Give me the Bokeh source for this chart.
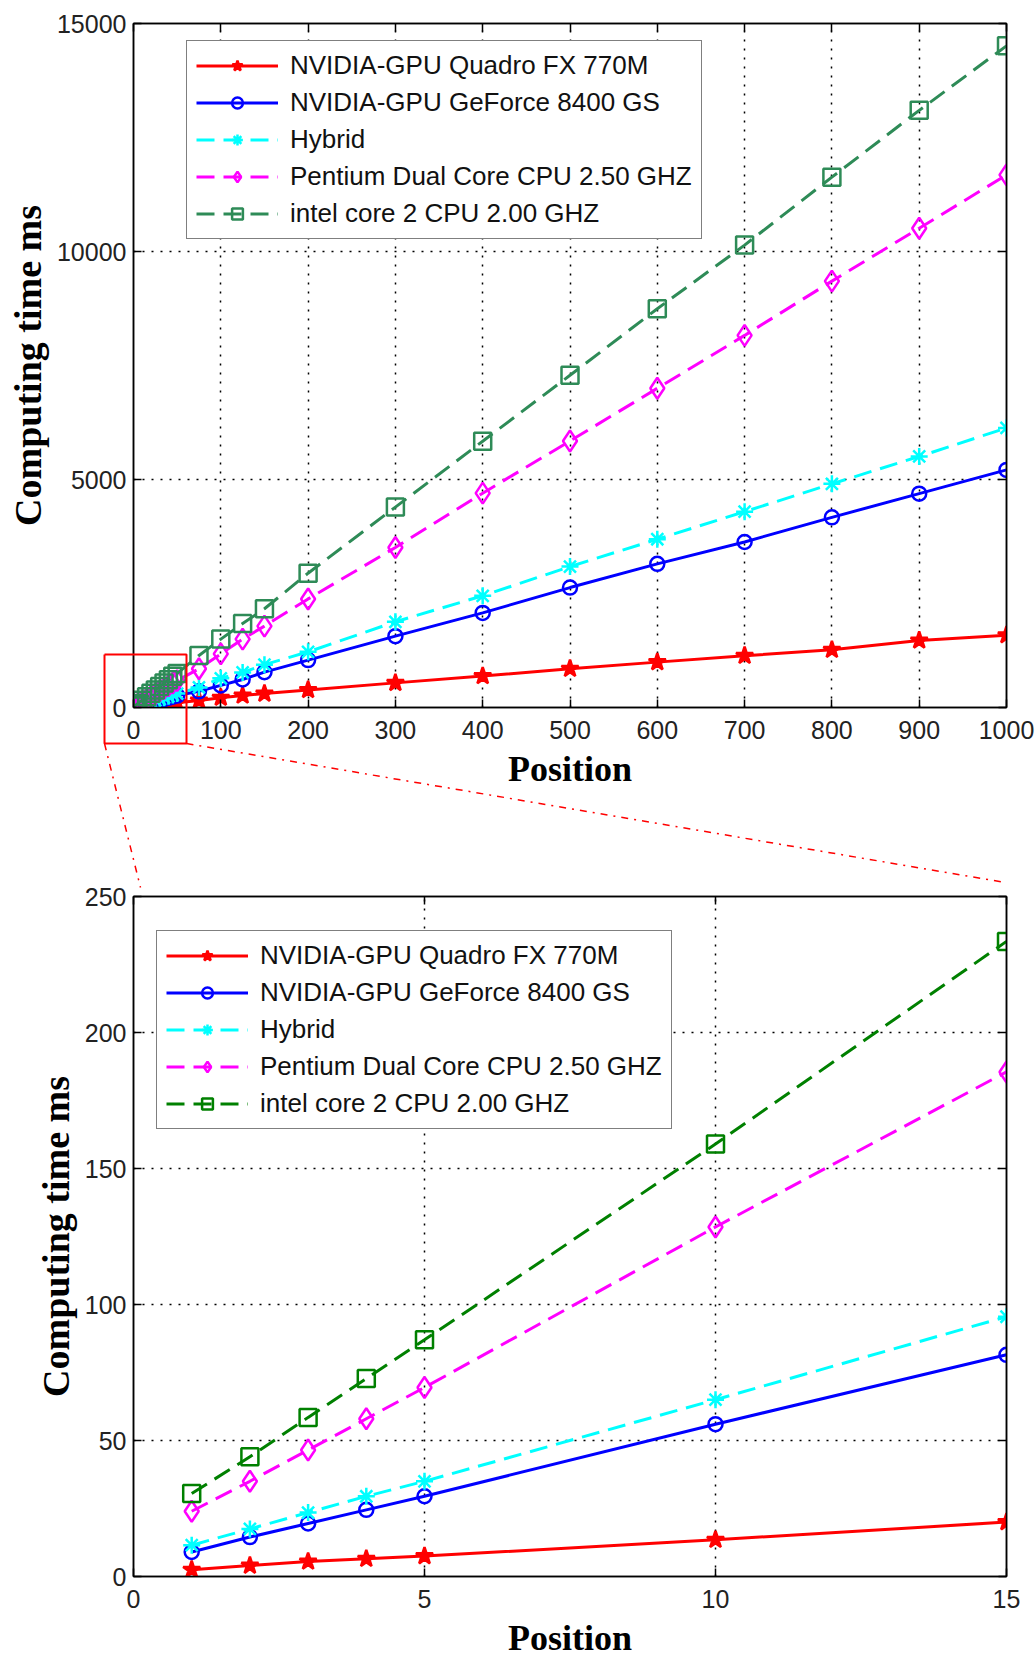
from bokeh.plotting import figure
from bokeh.models import (Legend, LegendItem, FixedTicker, LinearAxis, Range1d,
                          CustomJSTickFormatter)
from bokeh.layouts import column
from bokeh.embed import file_html
from bokeh.resources import INLINE

# ---------------- data ----------------
positions = [1, 2, 3, 4, 5, 10, 15, 20, 25, 30, 35, 40, 45, 50, 75, 100, 125, 150,
             200, 300, 400, 500, 600, 700, 800, 900, 1000]
quadro = [2.5, 4, 5.5, 6.5, 7.5, 13.5, 20, 28, 37, 48, 60, 73, 88, 105, 155, 215, 262, 305,
          385, 540, 690, 850, 995, 1135, 1265, 1470, 1585]
geforce = [9, 14.5, 19.5, 24.5, 29.5, 56, 81.5, 108, 133, 160, 185, 212, 238, 262, 355, 485, 615, 775,
           1040, 1565, 2075, 2630, 3150, 3630, 4170, 4690, 5210]
hybrid = [11.5, 17.5, 23.5, 29.5, 35, 65, 95.5, 126, 155, 186, 216, 245, 276, 305, 440, 640, 770, 940,
          1220, 1880, 2450, 3090, 3690, 4295, 4905, 5505, 6130]
pentium = [24, 35, 46.5, 58, 69.5, 128.5, 185.5, 245, 300, 360, 418, 476, 535, 590, 850, 1175, 1500, 1785,
           2380, 3510, 4700, 5845, 7000, 8160, 9350, 10510, 11680]
intel = [30.5, 44, 58.5, 72.8, 87, 159, 233.5, 310, 385, 460, 535, 610, 685, 745, 1140, 1500, 1840, 2165,
         2945, 4395, 5840, 7285, 8745, 10140, 11630, 13095, 14510]
labels = ["NVIDIA-GPU Quadro FX 770M", "NVIDIA-GPU GeForce 8400 GS", "Hybrid",
          "Pentium Dual Core CPU 2.50 GHZ", "intel core 2 CPU 2.00 GHZ"]

top_xticks = [0, 100, 200, 300, 400, 500, 600, 700, 800, 900, 1000]
top_yticks = [0, 5000, 10000, 15000]
bot_xticks = [0, 5, 10, 15]
bot_yticks = [0, 50, 100, 150, 200, 250]
n_zoom = 7  # first points shown in the zoomed view (positions 1..15)

# zoom indicator decoration, in page pixels (overlay layer)
overlay_top = 600
zoom_box_left, zoom_box_right = 104, 186
zoom_box_top, zoom_box_bottom = 654, 743
connector_x = [[104, 140], [186, 1005]]
connector_y = [[743, 887], [743, 882]]

SANS = "Liberation Sans"
SERIF = "Liberation Serif"


def hide_labels(ax):
    ax.formatter = CustomJSTickFormatter(code="return ''")
    ax.major_label_text_font_size = "1px"
    ax.major_label_standoff = 0


def make_plot(width, height, xr, yr, xticks, yticks, borders):
    p = figure(width=width, height=height, x_range=Range1d(*xr), y_range=Range1d(*yr),
               output_backend="svg", toolbar_location=None,
               min_border_left=borders[0], min_border_right=borders[1],
               min_border_top=borders[2], min_border_bottom=borders[3])
    p.background_fill_color = "white"
    p.border_fill_color = "white"
    p.outline_line_color = "black"
    p.outline_line_width = 1.5
    p.outline_line_alpha = 1

    xa = p.xaxis[0]
    ya = p.yaxis[0]
    xa.ticker = FixedTicker(ticks=xticks)
    ya.ticker = FixedTicker(ticks=yticks)
    for ax in (xa, ya):
        ax.major_tick_in = 8
        ax.major_tick_out = 0
        ax.minor_tick_in = 0
        ax.minor_tick_out = 0
        ax.axis_line_color = "black"
        ax.axis_line_width = 1.5
        ax.major_tick_line_color = "black"
        ax.major_tick_line_width = 1.5
        ax.major_label_text_font = SANS
        ax.major_label_text_font_size = "25px"
        ax.major_label_text_color = "#222222"
        ax.axis_label_text_font = SERIF
        ax.axis_label_text_font_style = "bold"
        ax.axis_label_text_color = "black"
    xa.axis_label = "Position"
    ya.axis_label = "Computing time ms"
    xa.axis_label_text_font_size = "36px"
    ya.axis_label_text_font_size = "38px"
    xa.major_label_standoff = 13
    xa.axis_label_standoff = 7
    ya.major_label_standoff = 7

    for side in ("above", "right"):
        ax = LinearAxis(ticker=FixedTicker(ticks=xticks if side == "above" else yticks))
        ax.major_tick_in = 8
        ax.major_tick_out = 0
        ax.minor_tick_in = 0
        ax.minor_tick_out = 0
        ax.axis_line_color = "black"
        ax.axis_line_width = 1.5
        ax.major_tick_line_color = "black"
        ax.major_tick_line_width = 1.5
        hide_labels(ax)
        p.add_layout(ax, side)

    for g in (p.xgrid[0], p.ygrid[0]):
        g.grid_line_color = "black"
        g.grid_line_dash = "2 7"
        g.grid_line_width = 1.5
    p.xgrid[0].ticker = FixedTicker(ticks=xticks)
    p.ygrid[0].ticker = FixedTicker(ticks=yticks)
    return p


def add_series(p, xs, series, green):
    specs = [
        dict(color="#FF0000", dash="solid", marker="star", size=18, fill="#FF0000"),
        dict(color="#0000FF", dash="solid", marker="circle", size=14, fill=None),
        dict(color="#00FFFF", dash="18 9", marker="asterisk", size=17, fill=None),
        dict(color="#FF00FF", dash="18 9", marker="diamond", size=21, fill=None),
        dict(color=green, dash="18 9", marker="square", size=17, fill=None),
    ]
    items = []
    for ys, lab, s in zip(series, labels, specs):
        lr = p.line(xs, ys, line_color=s["color"], line_width=3, line_dash=s["dash"])
        sr = p.scatter(xs, ys, marker=s["marker"], size=s["size"], line_color=s["color"],
                       line_width=2.5, fill_color=s["fill"])
        items.append(LegendItem(label=lab, renderers=[lr, sr]))
    return items


def add_legend(p, items, loc):
    lg = Legend(items=items, location=loc, orientation="vertical")
    lg.label_text_font = SANS
    lg.label_text_font_size = "26px"
    lg.label_text_color = "#111111"
    lg.glyph_width = 82
    lg.glyph_height = 27
    lg.label_height = 27
    lg.label_standoff = 12
    lg.spacing = 6
    lg.padding = 9
    lg.margin = 0
    lg.border_line_color = "black"
    lg.border_line_width = 1.5
    lg.background_fill_color = "white"
    lg.background_fill_alpha = 1
    p.add_layout(lg)


all_series = [quadro, geforce, hybrid, pentium, intel]

# ---------------- top plot ----------------
top = make_plot(1035, 800, (0, 1000), (0, 15000), top_xticks, top_yticks,
                (133, 29, 23, 93))
items = add_series(top, positions, all_series, "#2E8B57")
add_legend(top, items, (53, 468))

# ---------------- bottom (zoomed) plot ----------------
bot = make_plot(1035, 860, (0, 15), (0, 250), bot_xticks, bot_yticks,
                (133, 29, 96, 80))
items_b = add_series(bot, positions[:n_zoom], [s[:n_zoom] for s in all_series], "#008000")
add_legend(bot, items_b, (23, 447))
bot.xaxis[0].axis_label_standoff = 4

layout = column(top, bot, spacing=0)

# ---------------- transparent overlay for the zoom indicator ----------------
ov = figure(width=1035, height=300, x_range=Range1d(0, 1035),
            y_range=Range1d(overlay_top + 300, overlay_top),
            x_axis_type=None, y_axis_type=None, output_backend="svg",
            toolbar_location=None, min_border=0,
            styles={"position": "absolute", "top": f"{overlay_top}px", "left": "0px",
                    "z-index": "10", "pointer-events": "none"})
ov.outline_line_color = None
ov.background_fill_color = None
ov.border_fill_color = None
ov.xgrid.visible = False
ov.ygrid.visible = False
ov.line([zoom_box_left, zoom_box_right, zoom_box_right, zoom_box_left, zoom_box_left],
        [zoom_box_top, zoom_box_top, zoom_box_bottom, zoom_box_bottom, zoom_box_top],
        line_color="red", line_width=2)
ov.multi_line(connector_x, connector_y, line_color="red", line_width=1.5,
              line_dash="7 6 2 6")

open("out.html", "w").write(file_html([layout, ov], INLINE))
